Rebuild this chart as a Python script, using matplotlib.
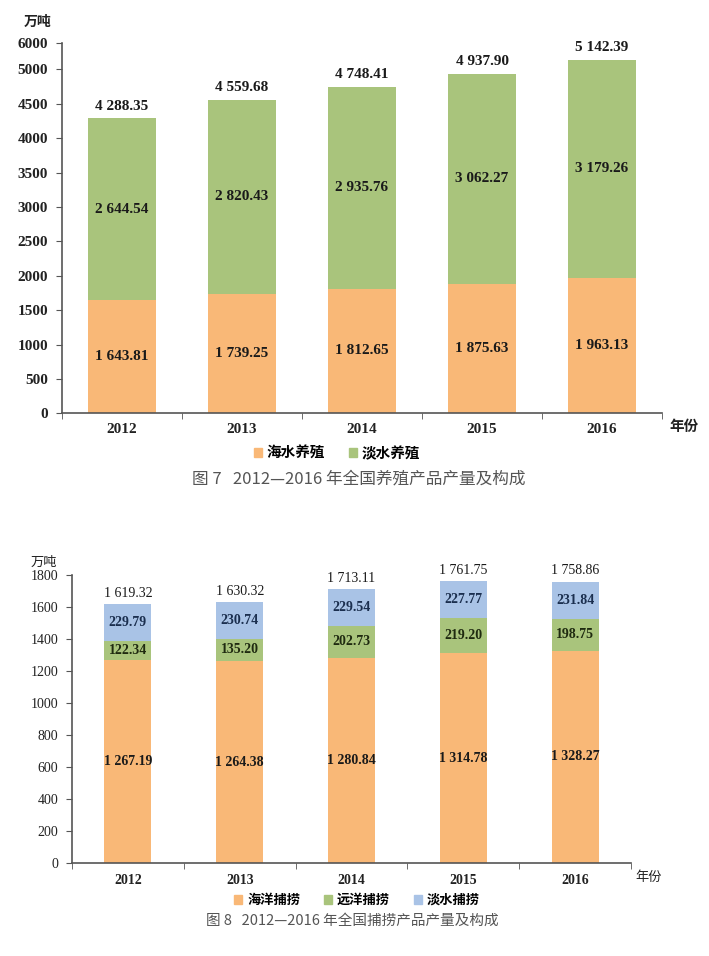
import numpy as np
import matplotlib
matplotlib.use("Agg")
import matplotlib.pyplot as plt
from matplotlib.patches import Patch

plt.rcParams['font.family'] = ['Liberation Serif', 'Noto Sans CJK SC', 'DejaVu Sans']

years = ['2012', '2013', '2014', '2015', '2016']

# Figure 7: aquaculture
mari_culture = [1643.81, 1739.25, 1812.65, 1875.63, 1963.13]
fresh_culture = [2644.54, 2820.43, 2935.76, 3062.27, 3179.26]
culture_names = ['海水养殖', '淡水养殖']
top_ticks = [0, 500, 1000, 1500, 2000, 2500, 3000, 3500, 4000, 4500, 5000]
top_extra_label = '6000'

# Figure 8: capture
marine_catch = [1267.19, 1264.38, 1280.84, 1314.78, 1328.27]
distant_catch = [122.34, 135.20, 202.73, 219.20, 198.75]
fresh_catch = [229.79, 230.74, 229.54, 227.77, 231.84]
catch_names = ['海洋捕捞', '远洋捕捞', '淡水捕捞']
bottom_ticks = [0, 200, 400, 600, 800, 1000, 1200, 1400, 1600, 1800]

ORANGE = '#F9B877'
GREEN = '#A9C47C'
BLUE = '#A9C3E6'
AXC = '#555555'
CJK = ['Noto Sans CJK SC', 'DejaVu Sans']

W, H = 709, 956
fig = plt.figure(figsize=(W / 100, H / 100), dpi=100)
fig.patch.set_facecolor('white')


def fmt(v):
    return f"{v:,.2f}".replace(',', ' ')


def px_ax(l, r, top, bottom):
    return fig.add_axes([l / W, 1 - bottom / H, (r - l) / W, (bottom - top) / H])


def style(ax, tick_fs, pad):
    for s in ['top', 'right']:
        ax.spines[s].set_visible(False)
    for s in ['left', 'bottom']:
        ax.spines[s].set_color(AXC)
        ax.spines[s].set_linewidth(1.2)
    ax.set_xlim(-0.5, 4.5)
    ax.set_xticks(np.arange(5))
    ax.set_xticklabels(years, fontsize=tick_fs, fontweight='bold', color='#222222')
    ax.tick_params(axis='x', which='major', length=0, pad=pad)
    ax.set_xticks(np.arange(-0.5, 5, 1), minor=True)
    ax.tick_params(axis='x', which='minor', length=4, color=AXC, direction='out')
    ax.tick_params(axis='y', length=4, color=AXC, direction='out', pad=6)


# ---------- Top chart ----------
ax1 = px_ax(62, 662, 43.3, 413.3)
x = np.arange(5)
mari = np.array(mari_culture)
fresh = np.array(fresh_culture)
tot1 = mari + fresh
ymax1 = 5378
ax1.bar(x, mari, width=0.56, color=ORANGE, linewidth=0)
ax1.bar(x, fresh, bottom=mari, width=0.56, color=GREEN, linewidth=0)
ax1.set_ylim(0, ymax1)
style(ax1, 11, 7)
ax1.set_yticks(top_ticks + [ymax1])
ax1.set_yticklabels([str(t) for t in top_ticks] + [top_extra_label],
                    fontsize=11, fontweight='bold', color='#222222')
for i in range(5):
    ax1.text(x[i], mari[i] / 2, fmt(mari[i]), ha='center', va='center', fontsize=11,
             fontweight='bold', color='#1a1a1a')
    ax1.text(x[i], mari[i] + fresh[i] / 2, fmt(fresh[i]), ha='center', va='center', fontsize=11,
             fontweight='bold', color='#1a1a1a')
    ax1.annotate(fmt(tot1[i]), (x[i], tot1[i]), xytext=(0, 4), textcoords='offset points',
                 ha='center', va='bottom', fontsize=11, fontweight='bold', color='#1a1a1a')

fig.text(38 / W, 1 - 22 / H, '万吨', family=CJK, fontsize=10, fontweight='bold',
         ha='center', va='center', color='#222222')
fig.text(684 / W, 1 - 426 / H, '年份', family=CJK, fontsize=10.5, fontweight='bold',
         ha='center', va='center', color='#222222')
h1 = [Patch(color=ORANGE), Patch(color=GREEN)]
fig.legend(h1, culture_names, loc='center', bbox_to_anchor=(337 / W, 1 - 453 / H), ncol=2,
           frameon=False, prop={'family': CJK, 'size': 10.5, 'weight': 'bold'},
           handlelength=0.6, handleheight=0.6, handletextpad=0.3, columnspacing=1.6)
fig.text(359 / W, 1 - 479 / H, '图 7   2012—2016 年全国养殖产品产量及构成', family=CJK,
         fontsize=12, ha='center', va='center', color='#555555')

# ---------- Bottom chart ----------
ax2 = px_ax(72, 631, 575, 863.3)
m = np.array(marine_catch)
d = np.array(distant_catch)
f = np.array(fresh_catch)
tot2 = m + d + f
ax2.bar(x, m, width=0.42, color=ORANGE, linewidth=0)
ax2.bar(x, d, bottom=m, width=0.42, color=GREEN, linewidth=0)
ax2.bar(x, f, bottom=m + d, width=0.42, color=BLUE, linewidth=0)
ax2.set_ylim(0, 1800)
style(ax2, 10, 8)
ax2.set_yticks(bottom_ticks)
ax2.set_yticklabels([str(t) for t in bottom_ticks], fontsize=10, color='#222222')
for i in range(5):
    ax2.text(x[i], m[i] / 2, fmt(m[i]), ha='center', va='center', fontsize=10,
             fontweight='bold', color='#1a1a1a')
    ax2.text(x[i], m[i] + d[i] / 2, fmt(d[i]), ha='center', va='center', fontsize=10,
             fontweight='bold', color='#1f2a10')
    ax2.text(x[i], m[i] + d[i] + f[i] / 2, fmt(f[i]), ha='center', va='center', fontsize=10,
             fontweight='bold', color='#1b2f4f')
    ax2.annotate(fmt(tot2[i]), (x[i], tot2[i]), xytext=(0, 3), textcoords='offset points',
                 ha='center', va='bottom', fontsize=10, color='#1a1a1a')

fig.text(44 / W, 1 - 562 / H, '万吨', family=CJK, fontsize=9.5,
         ha='center', va='center', color='#222222')
fig.text(649 / W, 1 - 878 / H, '年份', family=CJK, fontsize=9.5,
         ha='center', va='center', color='#222222')
h2 = [Patch(color=ORANGE), Patch(color=GREEN), Patch(color=BLUE)]
fig.legend(h2, catch_names, loc='center', bbox_to_anchor=(357 / W, 1 - 900 / H), ncol=3,
           frameon=False, prop={'family': CJK, 'size': 9.5, 'weight': 'bold'},
           handlelength=0.6, handleheight=0.6, handletextpad=0.4, columnspacing=1.8)
fig.text(352 / W, 1 - 921 / H, '图 8   2012—2016 年全国捕捞产品产量及构成', family=CJK,
         fontsize=10.5, ha='center', va='center', color='#555555')

fig.savefig('out.png', dpi=100, facecolor='white')
